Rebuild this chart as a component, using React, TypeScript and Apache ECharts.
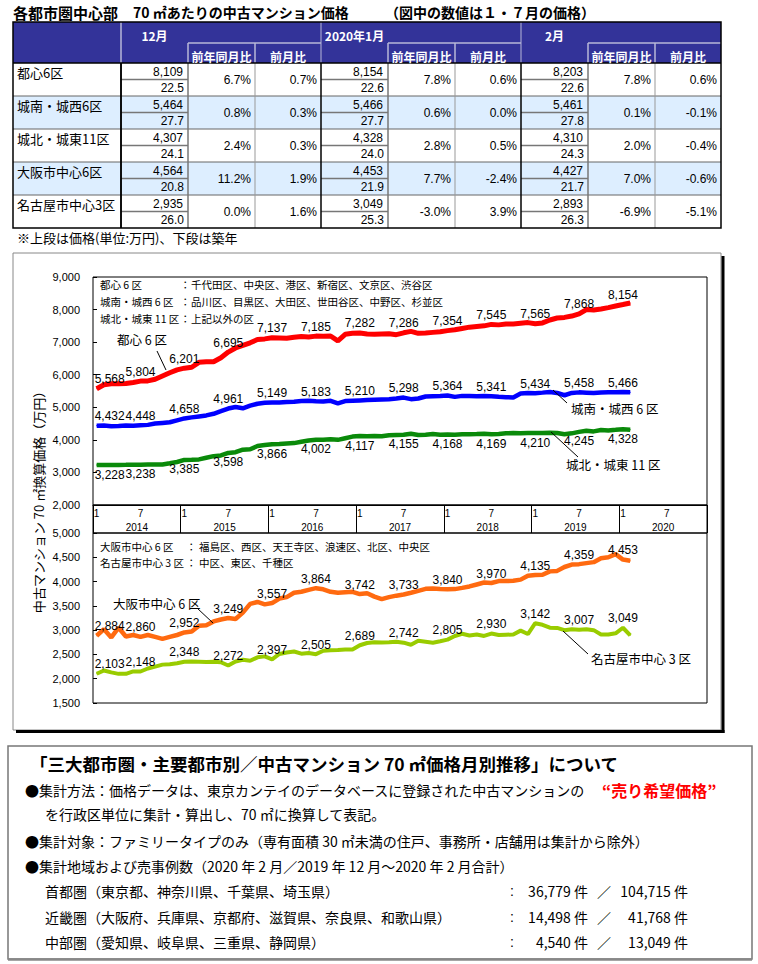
import React, { useEffect, useRef } from 'react';
import * as echarts from 'echarts';

const NUM_FONT = "'Liberation Sans', Arial, 'Noto Sans CJK JP', sans-serif";
const JP_FONT = "'Noto Sans CJK JP', 'Liberation Sans', sans-serif";

// ---------- Title / table data ----------
const titlePart1 = '各都市圏中心部';
const titlePart2 = '70 ㎡あたりの中古マンション価格';
const titlePart3 = '（図中の数値は１・７月の価格）';
const tableRegions = ['都心6区', '城南・城西6区', '城北・城東11区', '大阪市中心6区', '名古屋市中心3区'];
const tableMonths = ['12月', '2020年1月', '2月'];
const tableSubHeads = ['前年同月比', '前月比'];
const tablePrices = [
  [8109, 8154, 8203],
  [5464, 5466, 5461],
  [4307, 4328, 4310],
  [4564, 4453, 4427],
  [2935, 3049, 2893],
];
const tableAges = [
  [22.5, 22.6, 22.6],
  [27.7, 27.7, 27.8],
  [24.1, 24.0, 24.3],
  [20.8, 21.9, 21.7],
  [26.0, 25.3, 26.3],
];
const tableYoY = [
  [6.7, 7.8, 7.8],
  [0.8, 0.6, 0.1],
  [2.4, 2.8, 2.0],
  [11.2, 7.7, 7.0],
  [0.0, -3.0, -6.9],
];
const tableMoM = [
  [0.7, 0.6, 0.6],
  [0.3, 0.0, -0.1],
  [0.3, 0.5, -0.4],
  [1.9, -2.4, -0.6],
  [1.6, 3.9, -5.1],
];
const tableNote = '※上段は価格(単位:万円)、下段は築年';

// ---------- Chart data (monthly, Jan 2014 - Feb 2020) ----------
const years = ['2014', '2015', '2016', '2017', '2018', '2019', '2020'];
const monthNames = ['1', '2', '3', '4', '5', '6', '7', '8', '9', '10', '11', '12'];

const toshin6 = [
  5568, 5690, 5720, 5720, 5730, 5760, 5804, 5810, 5860, 5960, 6060, 6150,
  6201, 6230, 6380, 6400, 6400, 6520, 6695, 6820, 6900, 6980, 7080, 7100,
  7137, 7130, 7120, 7150, 7170, 7160, 7185, 7180, 7190, 7040, 7240, 7270,
  7282, 7250, 7240, 7250, 7260, 7230, 7286, 7330, 7270, 7280, 7300, 7320,
  7354, 7380, 7420, 7460, 7480, 7500, 7545, 7530, 7560, 7560, 7580, 7600,
  7565, 7590, 7680, 7740, 7760, 7800, 7868, 8000, 7990, 8020, 8060, 8109,
  8154, 8203,
];
const jonanJosei6 = [
  4432, 4440, 4420, 4425, 4440, 4430, 4448, 4460, 4500, 4520, 4540, 4600,
  4658, 4690, 4720, 4750, 4800, 4880, 4961, 5010, 4970, 5050, 5110, 5140,
  5149, 5150, 5160, 5170, 5190, 5200, 5183, 5180, 5200, 5120, 5190, 5200,
  5210, 5220, 5230, 5240, 5250, 5270, 5298, 5250, 5270, 5330, 5340, 5350,
  5364, 5320, 5350, 5350, 5340, 5345, 5341, 5320, 5310, 5300, 5420, 5440,
  5434, 5450, 5470, 5440, 5370, 5440, 5458, 5450, 5440, 5455, 5460, 5464,
  5466, 5461,
];
const johokuJoto11 = [
  3228, 3230, 3225, 3230, 3232, 3235, 3238, 3240, 3240, 3245, 3280, 3320,
  3385, 3390, 3400, 3450, 3500, 3520, 3598, 3620, 3700, 3710, 3810, 3840,
  3866, 3870, 3890, 3900, 3940, 3980, 4002, 4000, 4020, 4000, 4050, 4100,
  4117, 4110, 4120, 4110, 4140, 4150, 4155, 4190, 4150, 4160, 4180, 4160,
  4168, 4160, 4170, 4175, 4180, 4190, 4169, 4180, 4200, 4210, 4205, 4210,
  4210, 4210, 4215, 4212, 4170, 4200, 4245, 4280, 4260, 4300, 4290, 4307,
  4328, 4310,
];
const osaka6 = [
  2884, 3020, 2850, 3050, 2870, 2900, 2860, 2900, 2860, 2820, 2860, 2900,
  2952, 2970, 3090, 3100, 3180, 3220, 3249, 3230, 3360, 3540, 3580, 3530,
  3557, 3650, 3680, 3770, 3790, 3830, 3864, 3840, 3790, 3770, 3780, 3790,
  3742, 3760, 3690, 3640, 3680, 3710, 3733, 3770, 3810, 3850, 3855, 3845,
  3840, 3845, 3870, 3900, 3940, 3980, 3970, 4010, 4010, 4015, 4040, 4120,
  4135, 4140, 4210, 4220, 4300, 4350, 4359, 4380, 4400, 4480, 4500, 4564,
  4453, 4427,
];
const nagoya3 = [
  2103, 2170, 2130, 2100, 2100, 2150, 2148, 2210, 2250, 2290, 2300, 2320,
  2348, 2355, 2350, 2345, 2350, 2340, 2272, 2355, 2390, 2370, 2440, 2460,
  2397, 2510, 2540, 2560, 2515, 2530, 2505, 2575, 2585, 2590, 2600, 2600,
  2689, 2735, 2750, 2745, 2750, 2760, 2742, 2700, 2780, 2760, 2740, 2770,
  2805, 2880, 2925, 2890, 2910, 2880, 2930, 2900, 2905, 2910, 2990, 2920,
  3142, 3110, 3050, 3045, 3000, 3020, 3007, 3020, 3000, 2910, 2910, 2935,
  3049, 2893,
];

const topTicks = { min: 2000, max: 9000, interval: 1000 };
const bottomTicks = { min: 1500, max: 5000, interval: 500 };

const tokyoAreaNames = ['都心 6 区', '城南・城西 6 区', '城北・城東 11 区'];
const tokyoAreaWards = ['千代田区、中央区、港区、新宿区、文京区、渋谷区', '品川区、目黒区、大田区、世田谷区、中野区、杉並区', '上記以外の区'];
const westAreaNames = ['大阪市中心 6 区', '名古屋市中心 3 区'];
const westAreaWards = ['福島区、西区、天王寺区、浪速区、北区、中央区', '中区、東区、千種区'];
const yAxisTitle = '中古マンション 70 ㎡換算価格（万円）';

// ---------- Explanatory box ----------
const boxTitle = '「三大都市圏・主要都市別／中古マンション 70 ㎡価格月別推移」について';
const methodLine1 = '●集計方法：価格データは、東京カンテイのデータベースに登録された中古マンションの';
const methodRed = '“売り希望価格”';
const methodLine2 = 'を行政区単位に集計・算出し、70 ㎡に換算して表記。';
const targetLine = '●集計対象：ファミリータイプのみ（専有面積 30 ㎡未満の住戸、事務所・店舗用は集計から除外）';
const areaHead = '●集計地域および売事例数（2020 年 2 月／2019 年 12 月～2020 年 2 月合計）';
const areaNames = ['首都圏（東京都、神奈川県、千葉県、埼玉県）', '近畿圏（大阪府、兵庫県、京都府、滋賀県、奈良県、和歌山県）', '中部圏（愛知県、岐阜県、三重県、静岡県）'];
const areaFeb = [36779, 14498, 4540];
const areaThreeMonths = [104715, 41768, 13049];

const fmt = (v: number) => String(v).replace(/\B(?=(\d{3})+(?!\d))/g, ',');

const txt = (x: number, y: number, text: string, o: any = {}) => ({
  type: 'text',
  x,
  y,
  rotation: o.rot || 0,
  silent: true,
  z: o.z || 10,
  style: {
    text,
    fill: o.fill || '#000',
    fontSize: o.size || 12,
    fontFamily: o.font || JP_FONT,
    fontWeight: o.weight || 'normal',
    align: o.align || 'left',
    verticalAlign: o.va || 'middle',
  },
});
const rect = (x: number, y: number, w: number, h: number, style: any, z = 1) => ({
  type: 'rect',
  silent: true,
  z,
  shape: { x, y, width: w, height: h },
  style,
});
const line = (x1: number, y1: number, x2: number, y2: number, stroke: string, lineWidth = 1, z = 5) => ({
  type: 'line',
  silent: true,
  z,
  shape: { x1, y1, x2, y2 },
  style: { stroke, lineWidth },
});

function buildGraphic() {
  const g: any[] = [];
  // Title
  g.push(txt(13, 12, titlePart1, { size: 15, weight: 'bold' }));
  g.push(txt(133, 12, titlePart2, { size: 14, weight: 'bold' }));
  g.push(txt(385, 12, titlePart3, { size: 14, weight: 'bold' }));

  // Table
  const TL = 13, TT = 22, LW = 108, GW = 200, VW = 67, YW = 67;
  const H1 = 21, H2 = 20, RH = 33;
  const HB = TT + H1 + H2;
  const TR = TL + LW + GW * 3;
  const TB = HB + RH * tableRegions.length;
  g.push(rect(TL, TT, TR - TL, H1 + H2, { fill: '#333399' }));
  tableRegions.forEach((_, r) => {
    g.push(rect(TL, HB + r * RH, TR - TL, RH, { fill: r % 2 === 1 ? '#DDEEFF' : '#FFFFFF' }));
  });
  // header lines
  g.push(line(TL + LW, TT, TL + LW, HB, '#B8B8D8', 1));
  tableMonths.forEach((m, k) => {
    const gx = TL + LW + k * GW;
    g.push(line(gx, TT, gx, HB, '#B8B8D8', 1));
    g.push(line(gx + VW, TT + H1, gx + GW, TT + H1, '#B8B8D8', 1.5));
    g.push(line(gx + VW, TT + H1, gx + VW, HB, '#B8B8D8', 1.5));
    g.push(line(gx + VW + YW, TT + H1, gx + VW + YW, HB, '#B8B8D8', 1.5));
    g.push(txt(gx + VW / 2, 35, m, { size: 12, weight: 'bold', fill: '#fff', align: 'center' }));
    g.push(txt(gx + VW + YW / 2, 56, tableSubHeads[0], { size: 12, weight: 'bold', fill: '#fff', align: 'center' }));
    g.push(txt(gx + VW + YW + (GW - VW - YW) / 2, 56, tableSubHeads[1], { size: 12, weight: 'bold', fill: '#fff', align: 'center' }));
  });
  // body lines
  tableRegions.forEach((name, r) => {
    const y0 = HB + r * RH;
    if (r > 0) g.push(line(TL, y0, TR, y0, '#666', 1));
    g.push(txt(TL + 4, y0 + 9, name, { size: 13 }));
    tableMonths.forEach((_, k) => {
      const gx = TL + LW + k * GW;
      g.push(line(gx, y0 + 16.5, gx + VW, y0 + 16.5, '#777', 1.5));
      g.push(txt(gx + 62, y0 + 9, fmt(tablePrices[r][k]), { size: 12, font: NUM_FONT, align: 'right' }));
      g.push(txt(gx + 63, y0 + 25, tableAges[r][k].toFixed(1), { size: 12, font: NUM_FONT, align: 'right' }));
      g.push(txt(gx + VW + YW - 4, y0 + 17, tableYoY[r][k].toFixed(1) + '%', { size: 12, font: NUM_FONT, align: 'right' }));
      g.push(txt(gx + GW - 4, y0 + 17, tableMoM[r][k].toFixed(1) + '%', { size: 12, font: NUM_FONT, align: 'right' }));
    });
  });
  tableMonths.forEach((_, k) => {
    const gx = TL + LW + k * GW;
    g.push(line(gx + VW, HB, gx + VW, TB, '#777', 1.5));
    g.push(line(gx + VW + YW, HB, gx + VW + YW, TB, '#999', 1));
    g.push(line(gx, HB, gx, TB, '#000', 1.5));
  });
  g.push(line(TL + LW, HB, TL + LW, TB, '#000', 1.5));
  g.push(line(TL, HB, TR, HB, '#000', 1.5));
  g.push(rect(TL, TT, TR - TL, TB - TT, { fill: 'none', stroke: '#000', lineWidth: 1.5 }, 6));
  g.push(txt(17, 237, tableNote, { size: 13 }));

  // Chart frame with shadow
  g.push(rect(13, 253, 708, 477, { fill: 'none', stroke: '#888', lineWidth: 1 }, 1));
  g.push(line(723, 256, 723, 733, '#000', 3, 1));
  g.push(line(16, 731.5, 724.5, 731.5, '#000', 3, 1));
  // band between the plots
  g.push(rect(93, 505, 614, 28, { fill: 'none', stroke: '#000', lineWidth: 1 }, 5));

  // in-plot area descriptions
  tokyoAreaNames.forEach((n, i) => {
    const y = 284 + i * 17;
    g.push(txt(100, y, n, { size: 10.5 }));
    g.push(txt(180, y, '：', { size: 10.5 }));
    g.push(txt(191, y, tokyoAreaWards[i], { size: 10.5 }));
  });
  westAreaNames.forEach((n, i) => {
    const y = 546 + i * 16;
    g.push(txt(100, y, n, { size: 10.5 }));
    g.push(txt(186, y, '：', { size: 10.5 }));
    g.push(txt(199, y, westAreaWards[i], { size: 10.5 }));
  });

  // callouts
  g.push(txt(117, 339, tokyoAreaNames[0], { size: 12.5 }));
  g.push(line(157, 351, 166, 370, '#000', 1));
  g.push(txt(571, 408, tokyoAreaNames[1], { size: 12.5 }));
  g.push(line(553, 390, 567, 403, '#000', 1));
  g.push(txt(566, 464, tokyoAreaNames[2], { size: 12.5 }));
  g.push(line(551, 432, 578, 457, '#000', 1));
  g.push(txt(113, 603, westAreaNames[0], { size: 12.5 }));
  g.push(line(197, 608, 213, 623, '#000', 1));
  g.push(txt(591, 658, westAreaNames[1], { size: 12.5 }));
  g.push(line(563, 631, 588, 654, '#000', 1));

  // y axis title (vertical)
  g.push(txt(38, 499, yAxisTitle, { size: 13, align: 'center', rot: Math.PI / 2 }));

  // explanatory box
  g.push(rect(8, 746, 744, 213, { fill: 'none', stroke: '#777', lineWidth: 1.5 }, 1));
  g.push(line(8, 959.5, 752, 959.5, '#888', 2.5, 1));
  g.push(txt(30, 763, boxTitle, { size: 17.5, weight: 'bold' }));
  g.push(txt(25, 790, methodLine1, { size: 14 }));
  g.push(txt(602, 790, methodRed, { size: 16, weight: 'bold', fill: '#FF0000' }));
  g.push(txt(45, 814, methodLine2, { size: 14 }));
  g.push(txt(25, 841, targetLine, { size: 14 }));
  g.push(txt(25, 866, areaHead, { size: 14 }));
  areaNames.forEach((n, i) => {
    const y = 891 + i * 25.5;
    g.push(txt(45, y, n, { size: 14 }));
    g.push(txt(510, y, ':', { size: 14, font: NUM_FONT }));
    g.push(txt(588, y, fmt(areaFeb[i]) + ' 件', { size: 14, align: 'right' }));
    g.push(txt(604, y, '／', { size: 14, align: 'center' }));
    g.push(txt(688, y, fmt(areaThreeMonths[i]) + ' 件', { size: 14, align: 'right' }));
  });
  return g;
}

function mkSeries(name: string, vals: number[], color: string, width: number, xi: number, yi: number, pos: string) {
  return {
    name,
    type: 'line',
    xAxisIndex: xi,
    yAxisIndex: yi,
    data: vals.map((v, i) =>
      i % 6 === 0 ? { value: v, label: { show: true, offset: i === 0 ? [13, 0] : [0, 0] } } : v
    ),
    symbol: 'circle',
    symbolSize: 1,
    showSymbol: true,
    showAllSymbol: true,
    itemStyle: { color },
    lineStyle: { color, width },
    label: {
      show: false,
      position: pos,
      distance: 3,
      color: '#000',
      fontSize: 12,
      fontFamily: NUM_FONT,
      formatter: (p: any) => fmt(p.value),
    },
    emphasis: { disabled: true },
    silent: true,
    z: 3,
  };
}

export default function App() {
  const ref = useRef<HTMLDivElement>(null);
  useEffect(() => {
    if (!ref.current) return;
    const chart = echarts.init(ref.current, undefined, { renderer: 'svg' });
    const monthCats = years.flatMap((y) => monthNames.map((m) => `${y}/${m}`));
    const yLabel = { fontSize: 11, color: '#000', margin: 13, fontFamily: NUM_FONT, formatter: (v: number) => fmt(v) };
    const option: any = {
      animation: false,
      backgroundColor: '#fff',
      textStyle: { fontFamily: NUM_FONT },
      grid: [
        { left: 93, top: 277, width: 614, height: 228, show: true, borderColor: '#000', borderWidth: 1, backgroundColor: 'transparent' },
        { left: 93, top: 533, width: 614, height: 170, show: true, borderColor: '#000', borderWidth: 1, backgroundColor: 'transparent' },
      ],
      xAxis: [
        {
          gridIndex: 0,
          type: 'category',
          data: monthCats,
          boundaryGap: true,
          position: 'bottom',
          axisLine: { show: true, lineStyle: { color: '#000', width: 1 } },
          axisTick: { show: true, interval: (i: number) => i % 12 === 0, length: 28, lineStyle: { color: '#000', width: 1 } },
          axisLabel: {
            interval: (i: number) => i % 6 === 0,
            formatter: (v: string) => v.split('/')[1],
            fontSize: 10,
            color: '#000',
            margin: 3,
            fontFamily: NUM_FONT,
          },
          splitLine: { show: false },
        },
        { gridIndex: 1, type: 'category', data: monthCats, boundaryGap: true, position: 'bottom', show: false },
        {
          gridIndex: 1,
          type: 'category',
          data: years,
          boundaryGap: true,
          position: 'top',
          axisLine: { show: false },
          axisTick: { show: false },
          axisLabel: { fontSize: 10, color: '#000', margin: 1, fontFamily: NUM_FONT },
          splitLine: { show: false },
        },
      ],
      yAxis: [
        {
          gridIndex: 0,
          type: 'value',
          ...topTicks,
          axisLine: { show: false },
          axisTick: { show: true, inside: true, length: 4, lineStyle: { color: '#000' } },
          axisLabel: yLabel,
          splitLine: { show: false },
        },
        {
          gridIndex: 1,
          type: 'value',
          ...bottomTicks,
          axisLine: { show: false },
          axisTick: { show: true, inside: true, length: 4, lineStyle: { color: '#000' } },
          axisLabel: yLabel,
          splitLine: { show: false },
        },
      ],
      series: [
        mkSeries('都心6区', toshin6, '#FF0000', 5, 0, 0, 'top'),
        mkSeries('城南・城西6区', jonanJosei6, '#0000FF', 4.5, 0, 0, 'top'),
        mkSeries('城北・城東11区', johokuJoto11, '#0A8A0A', 4.5, 0, 0, 'bottom'),
        mkSeries('大阪市中心6区', osaka6, '#FF6A10', 4.5, 1, 1, 'top'),
        mkSeries('名古屋市中心3区', nagoya3, '#99CC00', 4, 1, 1, 'top'),
      ],
      graphic: { elements: buildGraphic() },
    };
    chart.setOption(option);
    return () => chart.dispose();
  }, []);
  return <div ref={ref} style={{ position: 'absolute', left: 0, top: 0, width: 758, height: 964 }} />;
}
